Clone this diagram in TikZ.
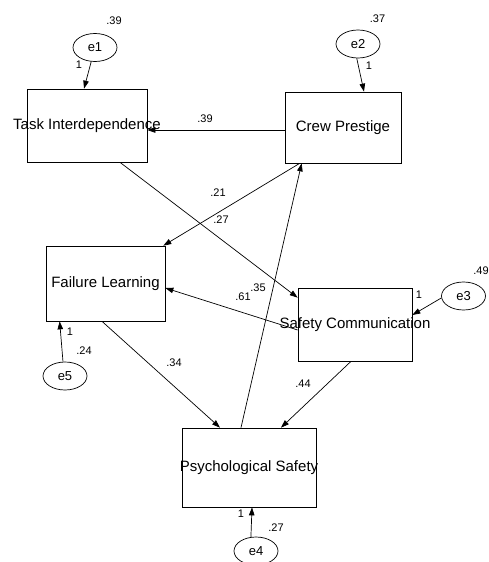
\documentclass[tikz,border=0pt]{standalone}
\usepackage{fontspec}
\setmainfont{Liberation Sans}
\usetikzlibrary{arrows.meta,shapes.geometric}
\begin{document}
\begin{tikzpicture}[x=1pt, y=-1pt, line width=0.7pt, >={Triangle[length=8pt,width=5.5pt]},
	box/.style={draw, rectangle, inner sep=0pt},
	vname/.style={font=\fontsize{15}{18}\selectfont, inner sep=0pt},
	err/.style={draw, ellipse, minimum width=44pt, minimum height=28pt, inner sep=0pt, font=\fontsize{13}{15}\selectfont},
	num/.style={font=\fontsize{11}{13}\selectfont, inner sep=0pt}]
	\useasboundingbox (0,0) rectangle (488,562);
	\node[box, minimum width=120pt, minimum height=73pt] (task) at (87,125.5) {};
	\node[box, minimum width=116pt, minimum height=71pt] (crew) at (343,127.5) {};
	\node[box, minimum width=119pt, minimum height=75pt] (fail) at (105.5,283.5) {};
	\node[box, minimum width=114pt, minimum height=73pt] (safe) at (355,324.5) {};
	\node[box, minimum width=134pt, minimum height=79pt] (psych) at (249,467.5) {};
	\node[vname] (task-t) at (task) {Task Interdependence};
	\node[vname] (crew-t) at (crew) {Crew Prestige};
	\node[vname] (fail-t) at (fail) {Failure Learning};
	\node[vname] (safe-t) at (safe) {Safety Communication};
	\node[vname] (psych-t) at (psych) {Psychological Safety};
	\node[err] (e1) at (95,47.5) {e1};
	\node[err] (e2) at (358,44) {e2};
	\node[err] (e3) at (463.5,296) {e3};
	\node[err] (e4) at (256,551) {e4};
	\node[err] (e5) at (65,376) {e5};
	\coordinate (cw) at ([yshift=-2.5pt]crew.west);
	\draw[->] (e1.-105) -- ([xshift=-3pt]task.north);
	\draw[->] (e2.-95) -- ([xshift=21pt]crew.north);
	\draw[->] (cw) -- (cw -| task.east);
	\draw[->] ([xshift=33pt]task.south) -- ([yshift=-10pt]safe.north west);
	\draw[->] ([xshift=15pt]crew.south west) -- ([xshift=-2pt]fail.north east);
	\draw[->] ([xshift=-8pt]psych.north) -- ([xshift=17pt]crew.south west);
	\draw[->] ([yshift=-5.5pt]safe.west) -- ([yshift=-4.5pt]fail.east);
	\draw[->] ([xshift=-3.5pt]fail.south) -- ([xshift=-29pt]psych.north);
	\draw[->] ([xshift=-4pt]safe.south) -- ([xshift=32pt]psych.north);
	\draw[->] (e3.185) -- ([yshift=9.5pt]safe.east);
	\draw[->] (e4.110) -- ([xshift=3pt]psych.south);
	\draw[->] (e5.98) -- ([xshift=14pt]fail.south west);
	\node[num] (v1) at (114,21) {.39};
	\node[num] (w1) at (79,65) {1};
	\node[num] (v2) at (377.5,19) {.37};
	\node[num] (w2) at (369,66) {1};
	\node[num] (p1) at (205,118.5) {.39};
	\node[num] (p2) at (218,193) {.21};
	\node[num] (p3) at (221,220) {.27};
	\node[num] (p4) at (243,297) {.61};
	\node[num] (p5) at (258,287.5) {.35};
	\node[num] (w3) at (419,295) {1};
	\node[num] (v3) at (481,271) {.49};
	\node[num] (p6) at (303,384) {.44};
	\node[num] (p7) at (174,362.5) {.34};
	\node[num] (w5) at (70,332) {1};
	\node[num] (v5) at (84,351) {.24};
	\node[num] (w4) at (241,514) {1};
	\node[num] (v4) at (276,527.5) {.27};
\end{tikzpicture}
\end{document}
